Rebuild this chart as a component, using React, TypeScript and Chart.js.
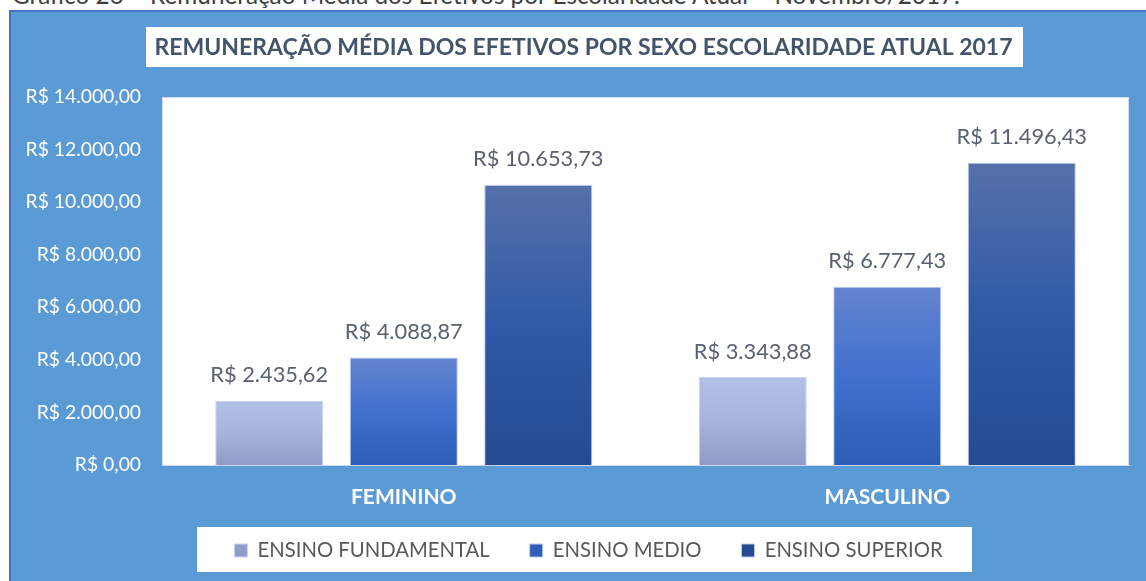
import { useEffect, useRef } from 'react';
import { Chart, registerables } from 'chart.js';

Chart.register(...registerables);

const captionText = 'Gráfico 26 – Remuneração Média dos Efetivos por Escolaridade Atual – Novembro/2017.';
const titleText = 'REMUNERAÇÃO MÉDIA DOS EFETIVOS POR SEXO ESCOLARIDADE ATUAL 2017';
const categories = ['FEMININO', 'MASCULINO'];
const seriesNames = ['ENSINO FUNDAMENTAL', 'ENSINO MEDIO', 'ENSINO SUPERIOR'];
const fundamental = [2435.62, 3343.88];
const medio = [4088.87, 6777.43];
const superior = [10653.73, 11496.43];
const yTickValues = [0, 2000, 4000, 6000, 8000, 10000, 12000, 14000];

const W = 1146;
const H = 581;

function brl(v: number): string {
  const [i, d] = v.toFixed(2).split('.');
  return 'R$ ' + i.replace(/\B(?=(\d{3})+(?!\d))/g, '.') + ',' + d;
}

function gradientFor(stops: string[], solid: string) {
  return (c: any) => {
    if (c.type !== 'data') return solid;
    const chart = c.chart;
    const y = chart.scales && chart.scales.y;
    if (!y || !chart.chartArea) return solid;
    const top = y.getPixelForValue(c.raw);
    const bottom = y.getPixelForValue(0);
    if (!isFinite(top) || !isFinite(bottom) || top === bottom) return solid;
    const g = chart.ctx.createLinearGradient(0, top, 0, bottom);
    stops.forEach((s, i) => g.addColorStop(i / (stops.length - 1), s));
    return g;
  };
}

const backgroundPlugin = {
  id: 'panelBackground',
  afterLayout(chart: any) {
    // place title and legend like the reference panel
    const t = chart.titleBlock;
    if (t) {
      t.left += 14;
      t.right += 14;
    }
    const l = chart.legend;
    if (l) {
      l.left += 19;
      l.right += 19;
      const h = l.height;
      l.top = 500.35;
      l.bottom = l.top + h;
    }
  },
  beforeDraw(chart: any) {
    const ctx = chart.ctx;
    ctx.save();
    ctx.fillStyle = '#5b9bd5';
    ctx.fillRect(9, 10, W - 9, H - 10);
    ctx.fillStyle = '#4472c4';
    ctx.fillRect(9, 10, W - 9, 2);
    ctx.fillRect(9, 10, 2, H - 10);
    ctx.fillStyle = '#ffffff';
    ctx.fillRect(146, 27, 877, 40);
    ctx.fillRect(197, 527, 775, 45);
    const a = chart.chartArea;
    ctx.fillRect(a.left, a.top, a.right - a.left, a.bottom - a.top);
    ctx.strokeStyle = '#d5deee';
    ctx.lineWidth = 1;
    ctx.strokeRect(a.left + 0.5, a.top + 0.5, a.right - a.left - 1, a.bottom - a.top);
    ctx.restore();
  },
};

const valueLabelPlugin = {
  id: 'valueLabels',
  afterDatasetsDraw(chart: any) {
    const ctx = chart.ctx;
    ctx.save();
    ctx.font = '21.8px Lato';
    ctx.fillStyle = '#596273';
    ctx.textAlign = 'center';
    ctx.textBaseline = 'alphabetic';
    chart.data.datasets.forEach((ds: any, di: number) => {
      const meta = chart.getDatasetMeta(di);
      meta.data.forEach((el: any, i: number) => {
        ctx.fillText(brl(ds.data[i]), el.x, el.y - 18.5);
      });
    });
    ctx.restore();
  },
};

export default function App() {
  const ref = useRef<HTMLCanvasElement | null>(null);

  useEffect(() => {
    if (!ref.current) return;
    const chart = new Chart(ref.current, {
      type: 'bar',
      data: {
        labels: categories,
        datasets: [
          {
            label: seriesNames[0],
            data: fundamental,
            backgroundColor: gradientFor(['#b3c0e6', '#a6b3dd', '#8f9cc9'], '#a5b1dc'),
            borderColor: '#c8d3ee',
            borderWidth: 1,
          },
          {
            label: seriesNames[1],
            data: medio,
            backgroundColor: gradientFor(['#6484ce', '#4170cf', '#2d5db6'], '#4472c4'),
            borderColor: '#b9cbee',
            borderWidth: 1,
          },
          {
            label: seriesNames[2],
            data: superior,
            backgroundColor: gradientFor(['#5670aa', '#2f5aa7', '#254a92'], '#2f55a0'),
            borderColor: '#b9c8e6',
            borderWidth: 1,
          },
        ],
      },
      options: {
        responsive: false,
        animation: false,
        devicePixelRatio: 1,
        datasets: {
          bar: { categoryPercentage: 0.8346, barPercentage: 0.803 },
        },
        layout: { padding: { left: 10, right: 17, top: 0, bottom: 0.7 } },
        scales: {
          x: {
            grid: { display: false, drawTicks: false },
            border: { display: true, color: '#cdd7e8', width: 1 },
            ticks: {
              color: '#ffffff',
              font: { family: 'Lato', size: 21, weight: 'bold' },
              padding: 19.5,
            },
            afterFit: (s: any) => {
              s.height = 45;
            },
          },
          y: {
            min: 0,
            max: 14000,
            grid: { display: false, drawTicks: false },
            border: { display: false },
            ticks: {
              color: '#ffffff',
              font: { family: 'Lato', size: 19.3 },
              padding: 21,
              callback: (v: any) => brl(Number(v)),
            },
            afterBuildTicks: (s: any) => {
              s.ticks = yTickValues.map((v) => ({ value: v }));
            },
            afterFit: (s: any) => {
              s.width = 152;
            },
          },
        },
        plugins: {
          title: {
            display: true,
            text: titleText,
            color: '#44546a',
            font: { family: 'Lato', size: 23, weight: 'bold', lineHeight: 1.2 },
            padding: { top: 34, bottom: 35.4 },
          },
          legend: {
            display: true,
            position: 'bottom',
            labels: {
              color: '#595959',
              font: { family: 'Lato', size: 20.3 },
              boxWidth: 13,
              boxHeight: 13,
              padding: 40,
            },
          },
          tooltip: { enabled: false },
        },
      },
      plugins: [backgroundPlugin, valueLabelPlugin],
    } as any);
    return () => chart.destroy();
  }, []);

  return (
    <div style={{ position: 'absolute', left: 0, top: 0, width: W, height: H, overflow: 'hidden', background: '#ffffff' }}>
      <div
        style={{
          position: 'absolute',
          left: 12,
          top: -17,
          fontFamily: 'Lato',
          fontSize: 24.3,
          lineHeight: '24px',
          color: '#404040',
          whiteSpace: 'nowrap',
        }}
      >
        {captionText}
      </div>
      <canvas ref={ref} width={W} height={H} style={{ position: 'absolute', left: 0, top: 0, width: W, height: H }} />
    </div>
  );
}
